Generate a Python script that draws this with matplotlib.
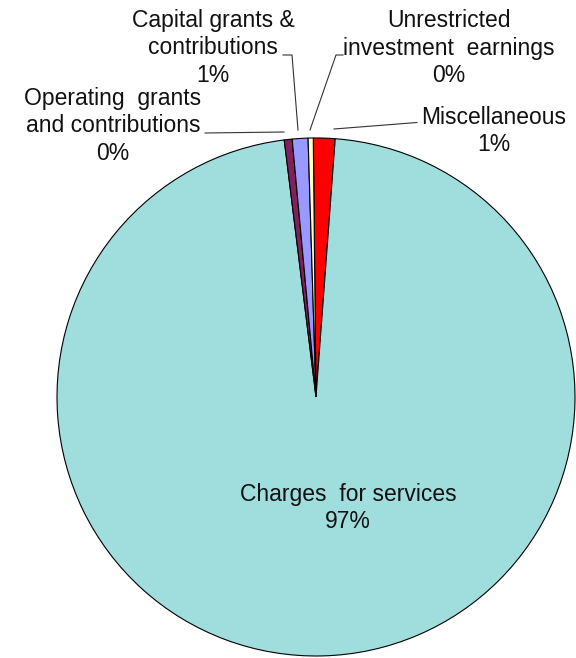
import matplotlib
matplotlib.use("Agg")
import matplotlib.pyplot as plt

plt.rcParams['font.family'] = ['Liberation Sans', 'DejaVu Sans']

categories = ["Miscellaneous", "Charges  for services", "Operating  grants\nand contributions",
              "Capital grants &\ncontributions", "Unrestricted\ninvestment  earnings"]
values = [1.35, 96.86, 0.49, 0.98, 0.32]
pct_labels = ["1%", "97%", "0%", "1%", "0%"]
colors = ["#FF0000", "#A0DEDE", "#82205E", "#9999FF", "#FFFFC0"]
explode = [0.025, 0.0, 0.025, 0.025, 0.025]

W, H = 576, 658
fig = plt.figure(figsize=(W / 100, H / 100), dpi=100)
ax = fig.add_axes([0, 0, 1, 1])

cx, cy, r = 316, H - 397, 259
wedges, _ = ax.pie(values, colors=colors, startangle=90.6, counterclock=False,
                   center=(cx, cy), radius=r, explode=explode,
                   wedgeprops=dict(edgecolor='black', linewidth=0.8),
                   frame=True)
ax.set_xlim(0, W)
ax.set_ylim(0, H)
ax.set_aspect('equal')
ax.axis('off')

fs = 16.5
def py(y):
    return H - y

# label positions in pixel coordinates (x, y from top)
label_pos = {
    0: (494, 131),
    1: (348, 508),
    2: (113, 126),
    3: (213, 48),
    4: (449, 48),
}
for i, (x, y) in label_pos.items():
    ax.text(x, py(y), f"{categories[i]}\n{pct_labels[i]}", ha='center', va='center',
            fontsize=fs, color='#111111', linespacing=1.27)

lk = dict(color='#333333', linewidth=0.8)
# leader lines
ax.plot([417, 334], [py(122.5), py(129)], **lk)           # Miscellaneous
ax.plot([205, 284], [py(133), py(132)], **lk)           # Operating
ax.plot([283, 292, 298], [py(55), py(55), py(130)], **lk)  # Capital
ax.plot([343, 336, 310], [py(55), py(55), py(130)], **lk)  # Unrestricted

fig.savefig("out.png", dpi=100)
